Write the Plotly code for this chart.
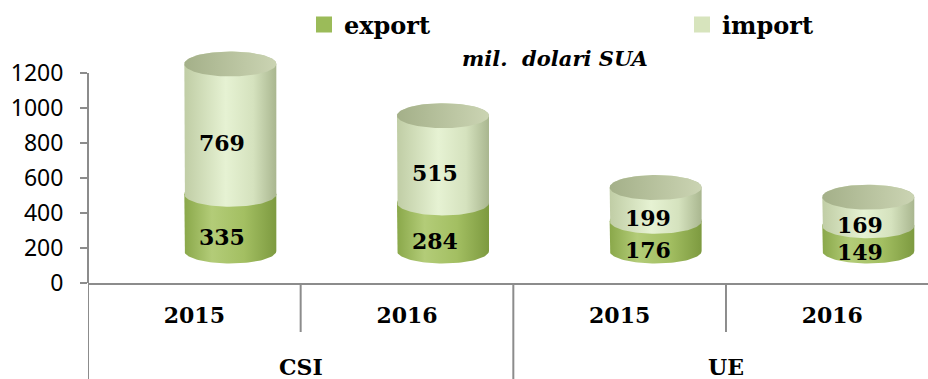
import numpy as np
import plotly.graph_objects as go

# Data
groups = ["CSI", "CSI", "UE", "UE"]
years = ["2015", "2016", "2015", "2016"]
export = [335, 284, 176, 149]
imports = [769, 515, 199, 169]
y_ticks = [0, 200, 400, 600, 800, 1000, 1200]

# Canvas / plot geometry (pixels)
W, H = 928, 379
M_L, M_R, M_T, M_B = 88, 0, 40, 96
PLOT_W = W - M_L - M_R
PLOT_H = H - M_T - M_B
X_RANGE = [-0.5, 3.45]
PX_X = PLOT_W / (X_RANGE[1] - X_RANGE[0])      # px per category
PX_Y = 0.175                                     # px per unit on the value axis
Y_RANGE = [0, PLOT_H / PX_Y]

# 3-D cylinder projection: a slightly shrunk scale, shifted back/up for depth
PX_Y3 = 0.1694
BASE_LIFT = 32                                   # px the cylinder floor sits above the axis
Y3_RANGE = [-BASE_LIFT / PX_Y3, (PLOT_H - BASE_LIFT) / PX_Y3]
DEPTH_X = 36 / PX_X
HALF_W = 46 / PX_X
ELL_H = 12.5 / PX_Y3

GRAD_EXPORT = [[0, "#8aa84a"], [0.3, "#b3cc78"], [0.65, "#a3bf62"], [1, "#7d9a40"]]
GRAD_IMPORT = [[0, "#c0cda5"], [0.45, "#e6f2d3"], [0.75, "#d5e2be"], [1, "#a9b68f"]]
GRAD_CAP = [[0, "#a4b089"], [1, "#cbd4b3"]]

SERIF = "DejaVu Serif"
SANS = "Noto Sans"
AXIS_GREY = "#8c8c8c"


def py(px_from_top):
    """Paper y coordinate for a pixel row of the canvas."""
    return (H - M_B - px_from_top) / PLOT_H


fig = go.Figure()

theta = np.linspace(0, np.pi, 60)


def body(cx, b, t):
    xs = [cx - HALF_W]
    ys = [t]
    xs += list(cx - HALF_W * np.cos(theta))
    ys += list(b - ELL_H * np.sin(theta))
    xs += list(cx + HALF_W * np.cos(theta))
    ys += list(t + ELL_H * np.sin(theta))
    return xs, ys


def cap(cx, t):
    a = np.linspace(0, 2 * np.pi, 120)
    return list(cx + HALF_W * np.cos(a)), list(t + ELL_H * np.sin(a))


centers = [i + DEPTH_X for i in range(len(years))]
totals = [e + m for e, m in zip(export, imports)]

for grad, lows, highs in (
    (GRAD_EXPORT, [0] * len(export), export),
    (GRAD_IMPORT, export, totals),
):
    for cx, b, t in zip(centers, lows, highs):
        xs, ys = body(cx, b, t)
        fig.add_trace(go.Scatter(
            x=xs, y=ys, yaxis="y2", mode="lines",
            line=dict(width=0), fill="toself",
            fillgradient=dict(type="horizontal", colorscale=grad),
            hoverinfo="skip", showlegend=False,
        ))

for cx, t in zip(centers, totals):
    xs, ys = cap(cx, t)
    fig.add_trace(go.Scatter(
        x=xs, y=ys, yaxis="y2", mode="lines",
        line=dict(width=0), fill="toself",
        fillgradient=dict(type="horizontal", colorscale=GRAD_CAP),
        hoverinfo="skip", showlegend=False,
    ))

# Legend keys, one legend box each so they can sit far apart
for name, col, leg in (("export", "#9bbb59", "legend"), ("import", "#d7e4bd", "legend2")):
    fig.add_trace(go.Scatter(
        x=[None], y=[None], mode="markers", name=name, legend=leg,
        marker=dict(symbol="square", size=16, color=col),
    ))

# Value labels, on the front face of each segment
annotations = []
for cx, e, m in zip(centers, export, imports):
    for val, mid in ((e, e / 2), (m, e + m / 2)):
        annotations.append(dict(
            x=cx, y=mid, xref="x", yref="y2", text=str(val),
            showarrow=False, xshift=-8, yshift=-14,
            font=dict(family=SERIF, size=22, color="black", weight="bold"),
        ))

# Second level of the category axis: group names and dividers
shapes = [dict(
    type="line", xref="paper", yref="y", x0=0, x1=0, y0=0, y1=1200,
    line=dict(color=AXIS_GREY, width=2),
)]
idx = list(range(len(groups)))
for g in dict.fromkeys(groups):
    members = [i for i in idx if groups[i] == g]
    annotations.append(dict(
        x=sum(members) / len(members), y=py(367), xref="x", yref="paper",
        text=g, showarrow=False, yanchor="middle",
        font=dict(family=SERIF, size=22, color="black", weight="bold"),
    ))
    shapes.append(dict(
        type="line", xref="x", yref="paper", x0=members[0] - 0.5, x1=members[0] - 0.5,
        y0=0, y1=py(H), line=dict(color=AXIS_GREY, width=2),
    ))
for i in idx[:-1]:
    if groups[i] == groups[i + 1]:
        shapes.append(dict(
            type="line", xref="x", yref="paper", x0=i + 0.5, x1=i + 0.5,
            y0=0, y1=py(332), line=dict(color=AXIS_GREY, width=2),
        ))

annotations.append(dict(
    x=(555 - M_L) / PLOT_W, y=py(58), xref="paper", yref="paper",
    xanchor="center", yanchor="middle",
    text="<b><i>mil.  dolari SUA</i></b>", showarrow=False,
    font=dict(family=SERIF, size=21, color="black"),
))

legend_style = dict(
    orientation="h", xanchor="left", yanchor="middle", y=py(25),
    font=dict(family=SERIF, size=24, color="black", weight="bold"),
    bgcolor="rgba(0,0,0,0)",
)

fig.update_layout(
    width=W, height=H,
    margin=dict(l=M_L, r=M_R, t=M_T, b=M_B, pad=0, autoexpand=False),
    paper_bgcolor="white", plot_bgcolor="white",
    showlegend=True,
    legend=dict(x=(304 - M_L) / PLOT_W, **legend_style),
    legend2=dict(x=(682 - M_L) / PLOT_W, **legend_style),
    xaxis=dict(
        range=X_RANGE, tickvals=idx, ticktext=years, showline=True,
        linecolor=AXIS_GREY, linewidth=2, showgrid=False, zeroline=False,
        ticks="outside", ticklen=12, tickcolor="rgba(0,0,0,0)",
        tickfont=dict(family=SERIF, size=22, color="black", weight="bold"),
    ),
    yaxis=dict(
        range=Y_RANGE, tickvals=y_ticks, showline=False, showgrid=False,
        zeroline=False, ticks="outside", ticklen=7, tickwidth=2,
        tickcolor=AXIS_GREY, ticklabelstandoff=12,
        tickfont=dict(family=SANS, size=23, color="black"),
    ),
    yaxis2=dict(range=Y3_RANGE, overlaying="y", visible=False),
    annotations=annotations,
    shapes=shapes,
)

fig.write_html("out.html")
